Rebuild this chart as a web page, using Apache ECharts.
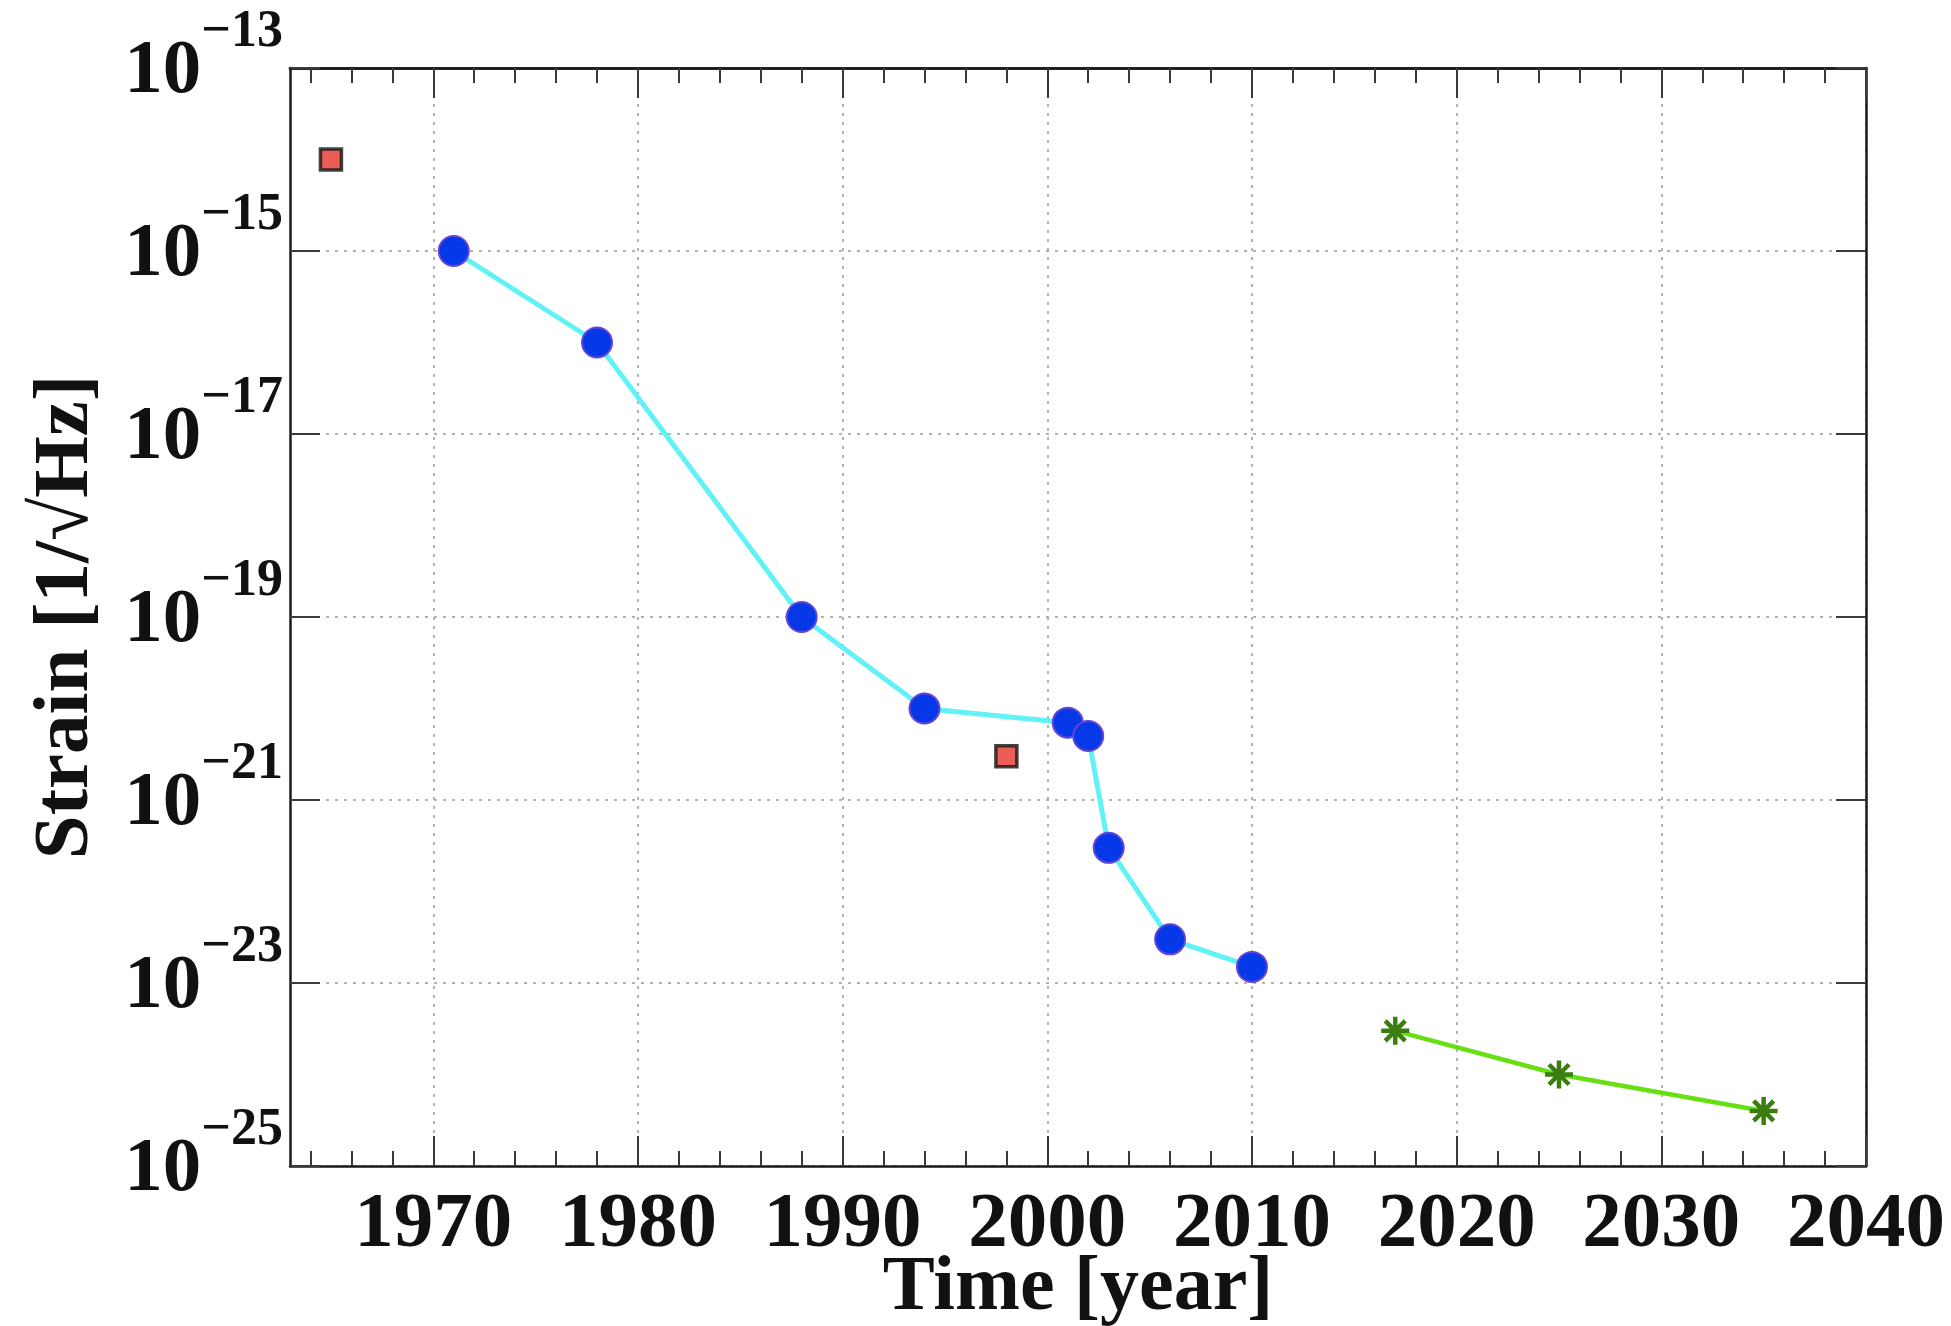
<!DOCTYPE html>
<html>
<head>
<meta charset="utf-8">
<title>Strain sensitivity vs time</title>
<script src="https://cdn.jsdelivr.net/npm/echarts@6/dist/echarts.min.js"></script>
<style>
  html, body { margin: 0; padding: 0; background: #fff; }
  #chart { width: 1951px; height: 1326px; }
</style>
</head>
<body>
<div id="chart"></div>
<script>
// detector sensitivity (strain, 1/sqrt(Hz)) by year
const blueYears = [1971, 1978, 1988, 1994, 2001, 2002, 2003, 2006, 2010];
const blueStrain = [1e-15, 1e-16, 1e-19, 1e-20, 7e-21, 5e-21, 3e-22, 3e-23, 1.5e-23];

const redYears = [1965, 1998];
const redStrain = [1e-14, 3e-21];

const greenYears = [2017, 2025, 2035];
const greenStrain = [3e-24, 1e-24, 4e-25];

const xMajorTicks = [1970, 1980, 1990, 2000, 2010, 2020, 2030, 2040];
const xMinorTicks = [1964, 1966, 1968, 1972, 1974, 1976, 1978, 1982, 1984, 1986, 1988,
    1992, 1994, 1996, 1998, 2002, 2004, 2006, 2008, 2012, 2014, 2016, 2018,
    2022, 2024, 2026, 2028, 2032, 2034, 2036, 2038];

const X_MIN = 1963, X_MAX = 2040;
const Y_MIN = -25, Y_MAX = -13;   // log10 of strain

const FONT = '"Liberation Serif", "Times New Roman", serif';
const AXIS_COLOR = '#1a1a1a';
const TICK_COLOR = '#3a3a3a';

const toPoints = (xs, ys) => xs.map((x, i) => [x, Math.log10(ys[i])]);

// MATLAB-style asterisk marker, drawn in pixel units so stroke is not rescaled
const ASTERISK = 'path://M14,0L14,28M0,14L28,14M4,4L24,24M4,24L24,4';

const frameX = (position, tickValues, tickLen) => ({
    type: 'value', position, min: X_MIN, max: X_MAX,
    axisLine: { show: position === 'top' || tickLen > 20, lineStyle: { color: AXIS_COLOR, width: 2.5 } },
    axisTick: { show: true, inside: true, length: tickLen, customValues: tickValues,
        lineStyle: { color: TICK_COLOR, width: 2 } },
    axisLabel: { show: false },
    splitLine: { show: false },
});

const chart = echarts.init(document.getElementById('chart'), null, { renderer: 'canvas' });

chart.setOption({
    animation: false,
    backgroundColor: '#fff',
    grid: { left: 290, right: 85, top: 68, bottom: 160, containLabel: false, outerBoundsMode: 'none' },
    xAxis: [
        {
            type: 'value', position: 'bottom', min: X_MIN, max: X_MAX, splitNumber: 8,
            name: 'Time [year]', nameLocation: 'middle', nameGap: 84, nameMoveOverlap: false,
            nameTextStyle: { fontFamily: FONT, fontWeight: 'bold', fontSize: 78, color: '#111' },
            axisLine: { lineStyle: { color: AXIS_COLOR, width: 2.5 } },
            axisTick: { inside: true, length: 30, customValues: xMajorTicks,
                lineStyle: { color: TICK_COLOR, width: 2 } },
            axisLabel: {
                customValues: xMajorTicks, margin: 20,
                fontFamily: FONT, fontWeight: 'bold', fontSize: 79, color: '#111',
                formatter: v => (v % 10 === 0 ? String(v) : ''),
            },
            splitLine: { show: true, lineStyle: { color: '#9a9a9a', width: 1.5, type: [3, 6] } },
        },
        frameX('bottom', xMinorTicks, 15),
        frameX('top', xMajorTicks, 30),
        frameX('top', xMinorTicks, 15),
    ],
    yAxis: [
        {
            type: 'value', position: 'left', min: Y_MIN, max: Y_MAX, interval: 2,
            name: 'Strain [1/√Hz]', nameLocation: 'middle', nameGap: 184, nameRotate: 90,
            nameMoveOverlap: false,
            nameTextStyle: { fontFamily: FONT, fontWeight: 'bold', fontSize: 79, color: '#111' },
            axisLine: { lineStyle: { color: AXIS_COLOR, width: 2.5 } },
            axisTick: { inside: true, length: 30, lineStyle: { color: TICK_COLOR, width: 2 } },
            axisLabel: {
                margin: 7,
                formatter: v => `{b|10}{e|−${-v}}`,
                rich: {
                    b: { fontFamily: FONT, fontWeight: 'bold', fontSize: 77, color: '#111',
                        lineHeight: 131, padding: [8, 0, 0, 0] },
                    e: { fontFamily: FONT, fontWeight: 'bold', fontSize: 52, color: '#111',
                        lineHeight: 52, verticalAlign: 'top', padding: [4, 0, 0, 0] },
                },
            },
            splitLine: { show: true, lineStyle: { color: '#9a9a9a', width: 1.5, type: [3, 6] } },
        },
        {
            type: 'value', position: 'right', min: Y_MIN, max: Y_MAX, interval: 2,
            axisLine: { show: true, lineStyle: { color: AXIS_COLOR, width: 2.5 } },
            axisTick: { show: true, inside: true, length: 30, lineStyle: { color: TICK_COLOR, width: 2 } },
            axisLabel: { show: false },
            splitLine: { show: false },
        },
    ],
    series: [
        {
            name: 'measured', type: 'line', xAxisIndex: 0, yAxisIndex: 0,
            data: toPoints(blueYears, blueStrain),
            lineStyle: { color: '#60f2f6', width: 5 },
            symbol: 'circle', symbolSize: 30,
            itemStyle: { color: '#0538e6', borderColor: '#6445d8', borderWidth: 2 },
            z: 3,
        },
        {
            name: 'other', type: 'scatter', xAxisIndex: 0, yAxisIndex: 0,
            data: toPoints(redYears, redStrain),
            symbol: 'rect', symbolSize: 21,
            itemStyle: { color: '#e3372a', borderColor: '#141414', borderWidth: 3.5 },
            z: 3,
        },
        {
            name: 'planned', type: 'line', xAxisIndex: 0, yAxisIndex: 0,
            data: toPoints(greenYears, greenStrain),
            lineStyle: { color: '#66e010', width: 4.5 },
            symbol: ASTERISK, symbolSize: 28,
            itemStyle: { color: '#3b7d0f', borderColor: '#3b7d0f', borderWidth: 4.5 },
            z: 3,
        },
    ],
});

window.addEventListener('resize', () => chart.resize());
</script>
</body>
</html>
